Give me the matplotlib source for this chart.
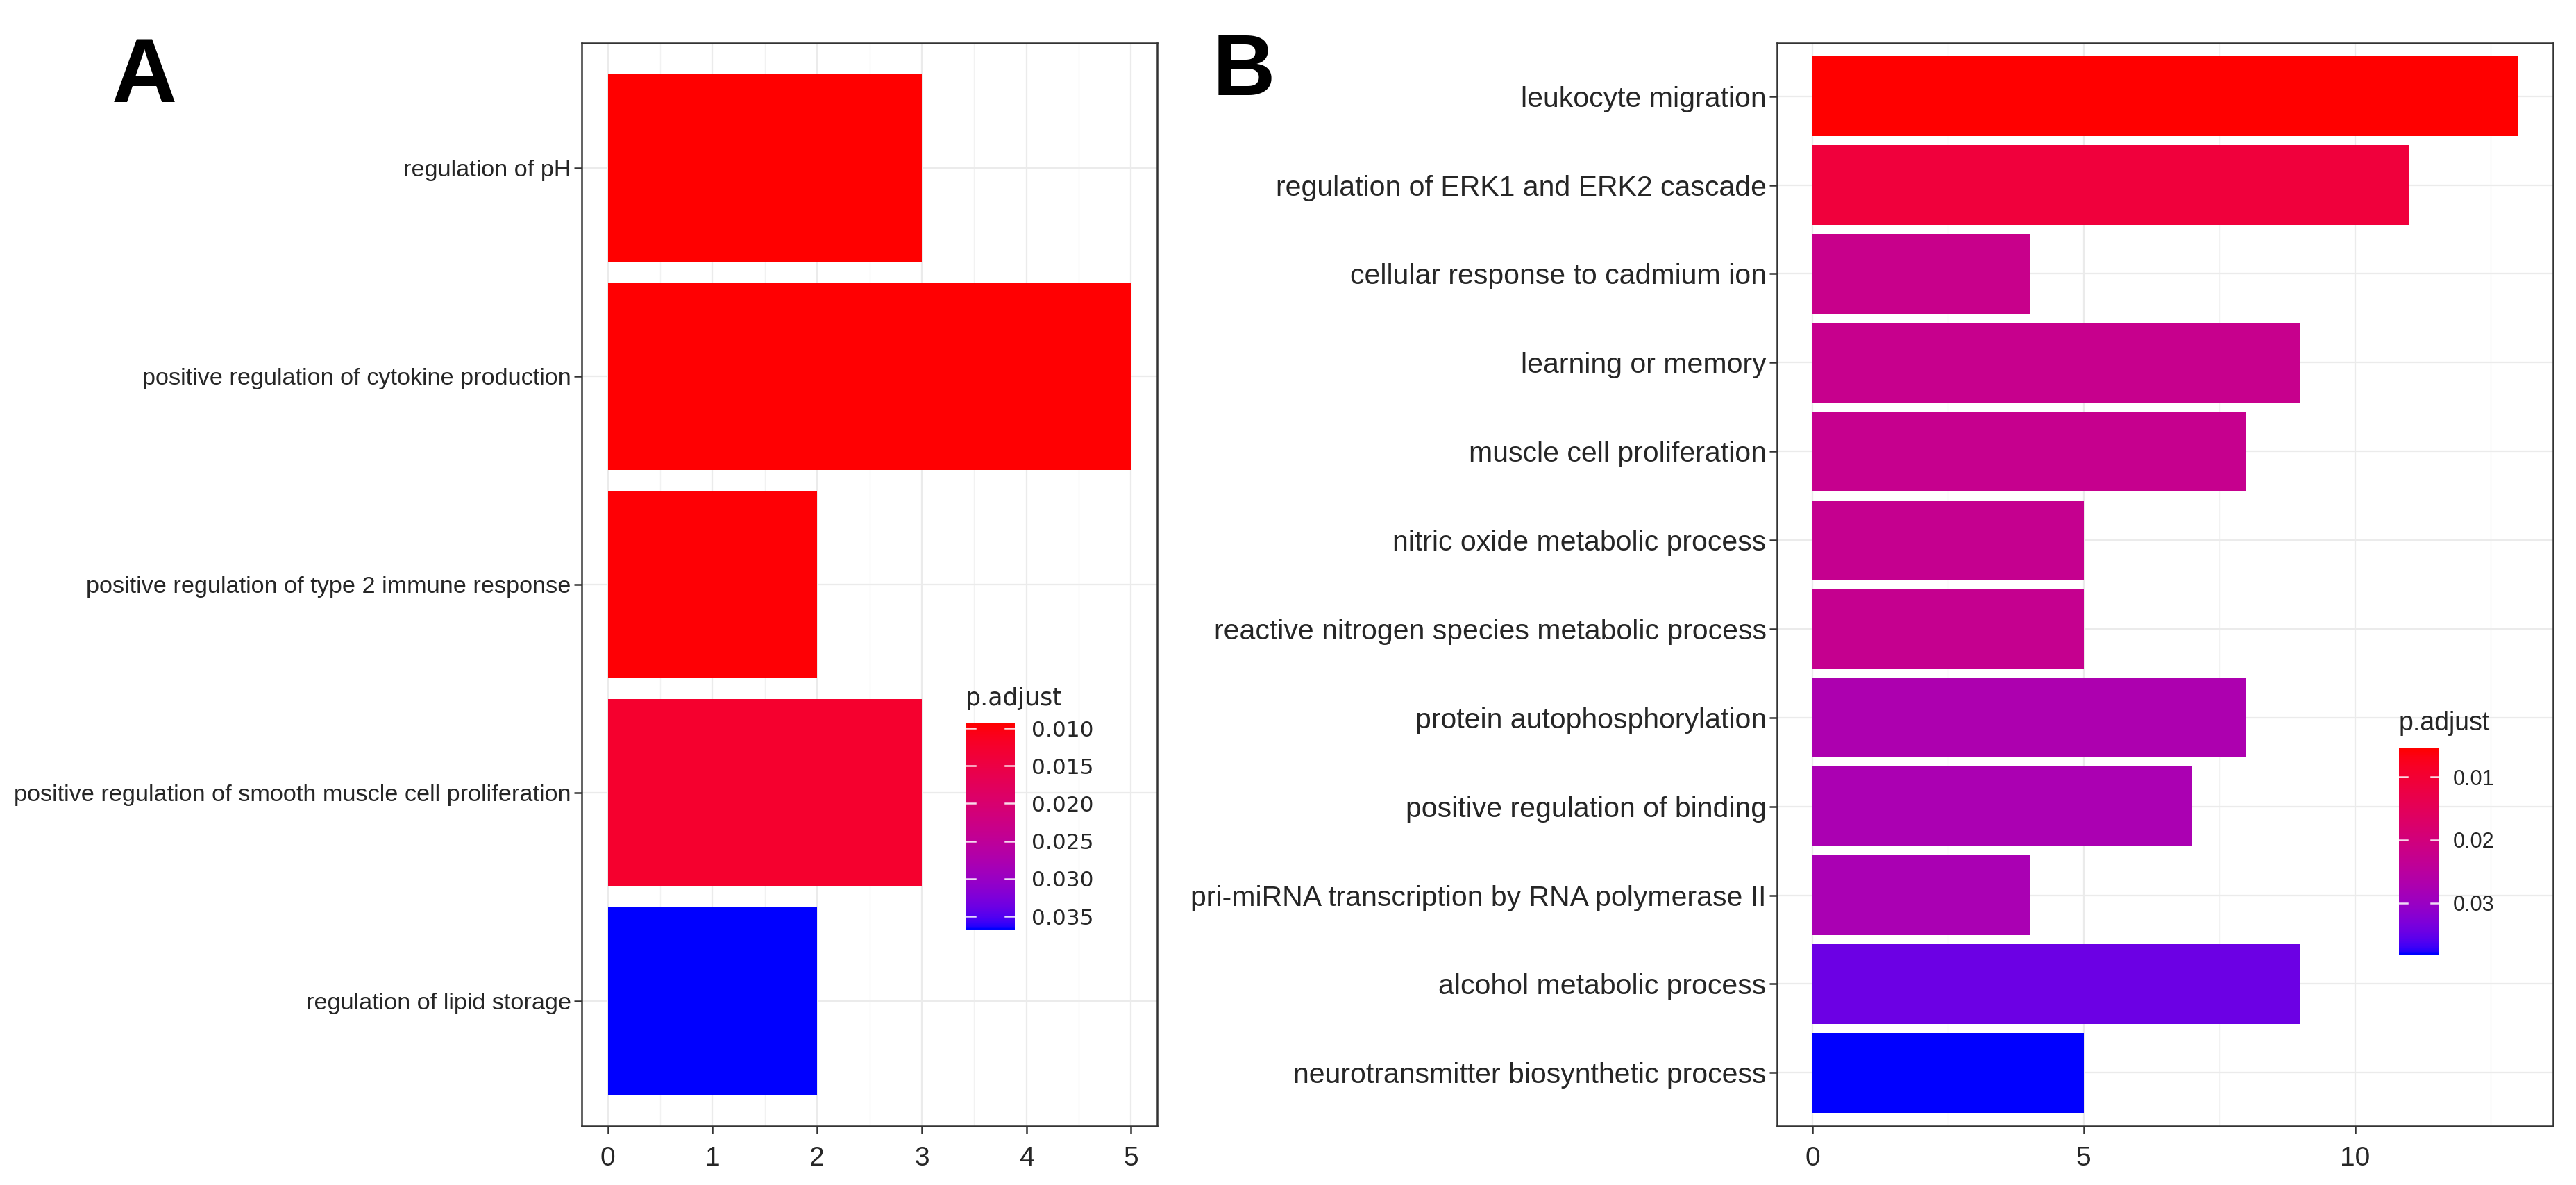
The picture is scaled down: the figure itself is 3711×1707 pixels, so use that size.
import numpy as np
import matplotlib
matplotlib.use('Agg')
import matplotlib.pyplot as plt
from matplotlib.colors import ListedColormap, Normalize

# ---------------- data ----------------
terms_a = ["regulation of pH",
           "positive regulation of cytokine production",
           "positive regulation of type 2 immune response",
           "positive regulation of smooth muscle cell proliferation",
           "regulation of lipid storage"]
counts_a = [3, 5, 2, 3, 2]
padj_a = [0.00935, 0.0095, 0.0096, 0.0125, 0.03675]
cbar_ticks_a = [0.010, 0.015, 0.020, 0.025, 0.030, 0.035]
cbar_labels_a = ["0.010", "0.015", "0.020", "0.025", "0.030", "0.035"]
xticks_a = [0, 1, 2, 3, 4, 5]

terms_b = ["leukocyte migration",
           "regulation of ERK1 and ERK2 cascade",
           "cellular response to cadmium ion",
           "learning or memory",
           "muscle cell proliferation",
           "nitric oxide metabolic process",
           "reactive nitrogen species metabolic process",
           "protein autophosphorylation",
           "positive regulation of binding",
           "pri-miRNA transcription by RNA polymerase II",
           "alcohol metabolic process",
           "neurotransmitter biosynthetic process"]
counts_b = [13, 11, 4, 9, 8, 5, 5, 8, 7, 4, 9, 5]
padj_b = [0.00548, 0.0110, 0.0222, 0.0224, 0.0226, 0.0228, 0.0228,
          0.0272, 0.0276, 0.0277, 0.0345, 0.03816]
cbar_ticks_b = [0.01, 0.02, 0.03]
cbar_labels_b = ["0.01", "0.02", "0.03"]
xticks_b = [0, 5, 10]

# ------------- colour ramp red -> blue in CIELAB (ggplot style) -------------
_M = np.array([[0.4124564, 0.3575761, 0.1804375],
               [0.2126729, 0.7151522, 0.0721750],
               [0.0193339, 0.1191920, 0.9503041]])
_W = np.array([0.95047, 1.0, 1.08883])


def srgb_to_lab(rgb):
    rgb = np.asarray(rgb, float)
    lin = np.where(rgb <= 0.04045, rgb / 12.92, ((rgb + 0.055) / 1.055) ** 2.4)
    xyz = _M @ lin / _W
    d = 6 / 29
    f = np.where(xyz > d ** 3, np.cbrt(xyz), xyz / (3 * d * d) + 4 / 29)
    return np.array([116 * f[1] - 16, 500 * (f[0] - f[1]), 200 * (f[1] - f[2])])


def lab_to_srgb(lab):
    L, a, b = lab
    fy = (L + 16) / 116
    fx = fy + a / 500
    fz = fy - b / 200
    d = 6 / 29
    f = np.array([fx, fy, fz])
    xyz = np.where(f > d, f ** 3, 3 * d * d * (f - 4 / 29)) * _W
    lin = np.linalg.solve(_M, xyz)
    lin = np.clip(lin, 0, 1)
    rgb = np.where(lin <= 0.0031308, 12.92 * lin, 1.055 * lin ** (1 / 2.4) - 0.055)
    return np.clip(rgb, 0, 1)


lab_lo = srgb_to_lab([1, 0, 0])
lab_hi = srgb_to_lab([0, 0, 1])
ramp = [lab_to_srgb(lab_lo + t * (lab_hi - lab_lo)) for t in np.linspace(0, 1, 256)]
cmap = ListedColormap(ramp)

# ---------------- figure ----------------
W, H = 3711, 1707
fig = plt.figure(figsize=(W / 100, H / 100), dpi=100)
fig.patch.set_facecolor('white')


def px_axes(x0, y0, x1, y1):
    return fig.add_axes([x0 / W, 1 - y1 / H, (x1 - x0) / W, (y1 - y0) / H])


TEXT = '#262626'
BORDER = '#333333'
GRID = '#EBEBEB'
SANS = ['Liberation Sans', 'DejaVu Sans']


def bar_panel(ax, terms, counts, padj, xticks, label_size, tick_size):
    n = len(terms)
    norm = Normalize(min(padj), max(padj))
    y = np.arange(n)
    ax.barh(y, counts, height=0.9, color=cmap(norm(np.array(padj))), zorder=3)
    mx = max(counts)
    ax.set_xlim(-0.05 * mx, mx * 1.05)
    ax.set_ylim(n - 0.4, -0.6)
    ax.set_yticks(y)
    ax.set_yticklabels(terms, fontsize=label_size, color=TEXT, family=SANS)
    ax.set_xticks(xticks)
    ax.set_xticklabels([str(v) for v in xticks], fontsize=tick_size, color=TEXT,
                       family=SANS)
    step = xticks[1] - xticks[0]
    minors = np.arange(xticks[0] + step / 2, mx * 1.05, step)
    ax.set_xticks(minors, minor=True)
    ax.grid(True, which='major', axis='both', color=GRID, lw=1.6, zorder=0)
    ax.grid(True, which='minor', axis='x', color='#F2F2F2', lw=1.0, zorder=0)
    ax.tick_params(axis='both', which='major', length=8, width=1.8, color=BORDER)
    ax.tick_params(axis='y', pad=3)
    ax.tick_params(axis='x', pad=13)
    ax.tick_params(which='minor', length=0)
    ax.set_axisbelow(True)
    for s in ax.spines.values():
        s.set_color(BORDER)
        s.set_linewidth(1.8)
    return norm


def colorbar(x0, y0, x1, y1, norm, ticks, labels, title, title_base,
             font, label_size, title_size, pad):
    cax = px_axes(x0, y0, x1, y1)
    vals = np.linspace(norm.vmin, norm.vmax, 300)[:, None]
    cax.imshow(vals, aspect='auto', cmap=cmap, norm=norm, origin='lower',
               extent=[0, 1, norm.vmin, norm.vmax], interpolation='bilinear')
    cax.set_xlim(0, 1)
    cax.set_ylim(norm.vmax, norm.vmin)
    for t in ticks:
        cax.plot([0, 0.2], [t, t], color='white', lw=1.8, alpha=0.85)
        cax.plot([0.8, 1], [t, t], color='white', lw=1.8, alpha=0.85)
    cax.set_xticks([])
    cax.yaxis.tick_right()
    cax.set_yticks(ticks)
    cax.set_yticklabels(labels, fontsize=label_size, color=TEXT, family=font)
    cax.tick_params(axis='y', length=0, pad=pad)
    for s in cax.spines.values():
        s.set_visible(False)
    fig.text(x0 / W, 1 - title_base / H, title, fontsize=title_size, color=TEXT,
             family=font, ha='left', va='baseline')


# Panel A
axA = px_axes(838, 62, 1667, 1622)
normA = bar_panel(axA, terms_a, counts_a, padj_a, xticks_a, 24.7, 28)
colorbar(1391, 1042, 1462, 1339, normA, cbar_ticks_a, cbar_labels_a, 'p.adjust',
         1016, ['DejaVu Sans'], 22.5, 25, 17)

# Panel B
axB = px_axes(2560, 62, 3678, 1622)
normB = bar_panel(axB, terms_b, counts_b, padj_b, xticks_b, 29.5, 28)
colorbar(3456, 1078, 3514, 1375, normB, cbar_ticks_b, cbar_labels_b, 'p.adjust',
         1052, SANS, 22, 27, 14)

# Panel letters
fig.text(161 / W, 1 - 147 / H, 'A', fontsize=94, fontweight='bold', color='black',
         family=SANS, ha='left', va='baseline')
fig.text(1747 / W, 1 - 137 / H, 'B', fontsize=90, fontweight='bold', color='black',
         family=SANS, ha='left', va='baseline')

fig.savefig('out.png', dpi=100, facecolor='white')
